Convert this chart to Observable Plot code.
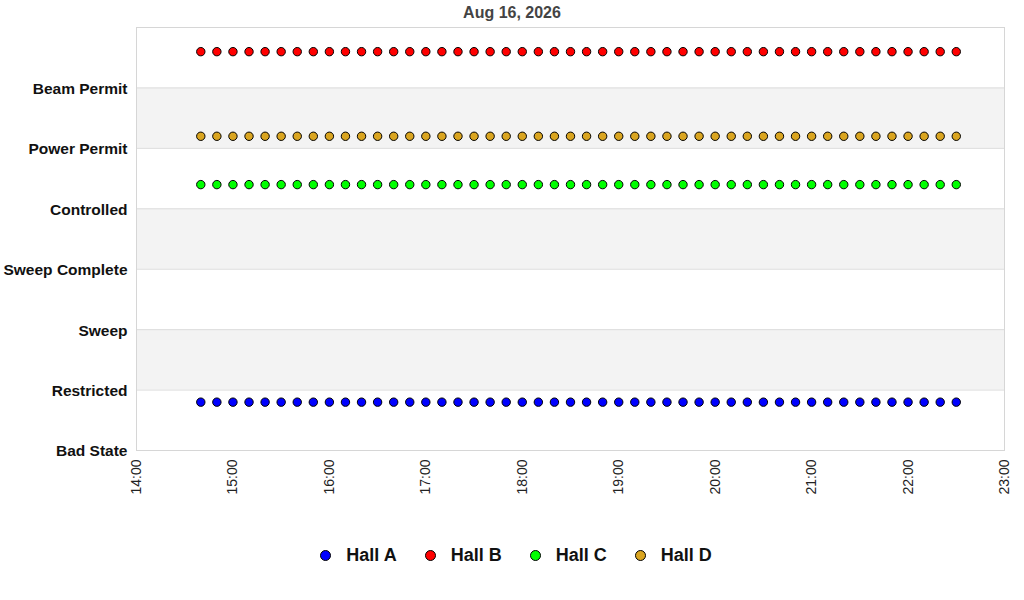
<!DOCTYPE html>
<html>
<head>
<meta charset="utf-8">
<script src="https://cdn.jsdelivr.net/npm/d3@7"></script>
<script src="https://cdn.jsdelivr.net/npm/@observablehq/plot@0.6"></script>
<style>
  body { margin: 0; background: #fff; font-family: "Liberation Sans", Arial, sans-serif; }
  #title { height: 27px; line-height: 25px; text-align: center; font-weight: bold; font-size: 16px; color: #444; }
  #legend { display: flex; justify-content: center; align-items: center; margin-top: 38px; margin-left: 8px; }
  .item { display: flex; align-items: center; margin: 0 14px; font-weight: bold; font-size: 18px; color: #111; }
  .item span.sw { width: 9px; height: 9px; border-radius: 50%; border: 1px solid #000; margin-right: 15px; }
</style>
</head>
<body>
<div id="title">Aug 16, 2026</div>
<div id="chart"></div>
<div id="legend"></div>
<script>
const day = '2026-08-16';

// sample times (every reading in the picture)
const times = [
  '14:40', '14:50', '15:00', '15:10', '15:20', '15:30', '15:40', '15:50',
  '16:00', '16:10', '16:20', '16:30', '16:40', '16:50', '17:00', '17:10',
  '17:20', '17:30', '17:40', '17:50', '18:00', '18:10', '18:20', '18:30',
  '18:40', '18:50', '19:00', '19:10', '19:20', '19:30', '19:40', '19:50',
  '20:00', '20:10', '20:20', '20:30', '20:40', '20:50', '21:00', '21:10',
  '21:20', '21:30', '21:40', '21:50', '22:00', '22:10', '22:20', '22:30',
];

const halls = ['Hall A', 'Hall B', 'Hall C', 'Hall D'];
const hallLevels = [0.8, 6.6, 4.4, 5.2];
const hallColors = ['#0000ff', '#ff0000', '#00ff00', '#daa520'];

const states = ['Bad State', 'Restricted', 'Sweep', 'Sweep Complete', 'Controlled', 'Power Permit', 'Beam Permit'];
const shadedBands = [[1, 2], [3, 4], [5, 6]];
const xTicks = ['14:00', '15:00', '16:00', '17:00', '18:00', '19:00', '20:00', '21:00', '22:00', '23:00'];

const parse = d3.utcParse('%Y-%m-%d %H:%M');
const toDate = (t) => parse(day + ' ' + t);

// one row per hall per reading
let data = [];
halls.forEach((h, i) => {
  times.forEach((t) => {
    data.push({ hall: h, time: toDate(t), level: hallLevels[i] });
  });
});

let stateIdx = states.map((s, i) => i);

let chart = Plot.plot({
  width: 1024,
  height: 480,
  marginLeft: 136,
  marginRight: 20,
  marginTop: 0,
  marginBottom: 57,
  x: {
    type: 'utc',
    domain: [toDate(xTicks[0]), toDate(xTicks[xTicks.length - 1])],
  },
  y: { domain: [0, states.length] },
  color: { domain: halls, range: hallColors },
  style: { 'font-family': '"Liberation Sans", Arial, sans-serif', color: '#000' },
  marks: [
    Plot.rect(shadedBands, {
      x1: () => toDate(xTicks[0]),
      x2: () => toDate(xTicks[xTicks.length - 1]),
      y1: (d) => d[0],
      y2: (d) => d[1],
      fill: '#f3f3f3',
    }),
    Plot.ruleY(stateIdx.slice(1), { stroke: '#dcdcdc' }),
    Plot.frame({ stroke: '#d6d6d6' }),
    Plot.axisY({
      ticks: stateIdx,
      tickFormat: (i) => states[i],
      tickSize: 0,
      tickPadding: 9,
      fontSize: 15.5,
      fontWeight: 'bold',
      fill: '#111',
      dy: 1,
      label: null,
    }),
    Plot.axisX({
      ticks: xTicks.map(toDate),
      tickFormat: d3.utcFormat('%H:%M'),
      tickRotate: -90,
      tickSize: 0,
      tickPadding: 9,
      fontSize: 14,
      fill: '#222',
      label: null,
    }),
    Plot.dot(data, {
      x: 'time',
      y: 'level',
      fill: 'hall',
      r: 4.2,
      stroke: '#000',
      strokeWidth: 1,
    }),
  ],
});

d3.select('#chart').append(() => chart);

// legend under the chart
let legend = d3.select('#legend');
halls.forEach((h, i) => {
  let item = legend.append('div').attr('class', 'item');
  item.append('span').attr('class', 'sw').style('background', hallColors[i]);
  item.append('span').text(h);
});
</script>
</body>
</html>
